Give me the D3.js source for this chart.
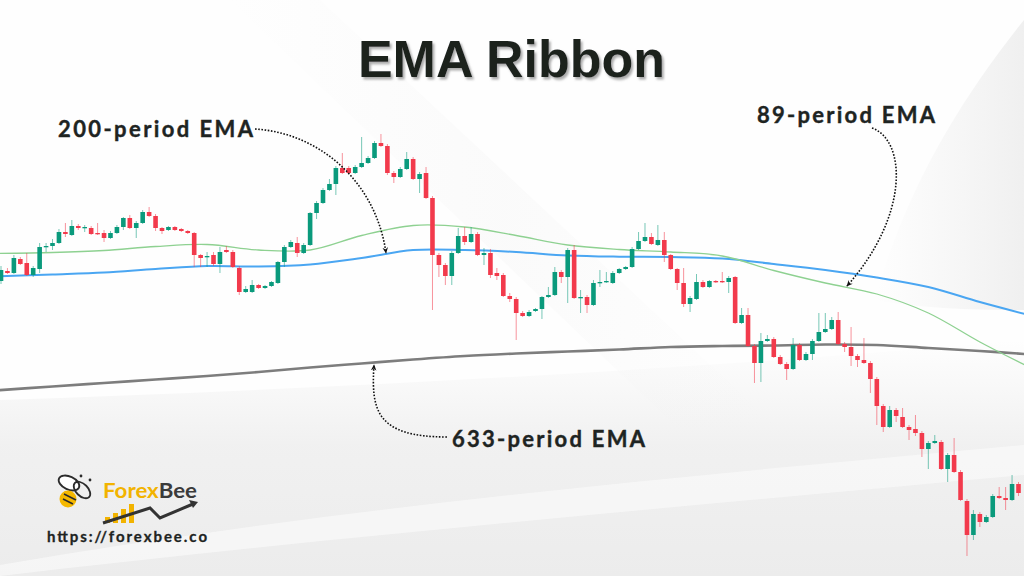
<!DOCTYPE html>
<html>
<head>
<meta charset="utf-8">
<script src="https://cdn.jsdelivr.net/npm/d3@7"></script>
<style>
  html, body { margin: 0; padding: 0; background: #fff; }
  svg { display: block; }
</style>
</head>
<body>
<div id="chart"></div>
<script>
var width = 1024;
var height = 576;

// candle values, one entry per bar
var openVals = [319,329,327,341,337,325,331,353,354,357,
  368,365,374,372,372,367,367,362,367,373,
  382,372,377,388,384,372,370,373,371,369,
  367,345,343,345,336,350,348,332,308,308,
  315,312,314,317,338,353,357,347,355,387,
  397,410,416,432,432,427,433,437,442,457,
  454,427,423,431,441,421,427,402,345,335,
  324,347,364,358,366,345,347,327,325,304,
  301,287,284,289,291,303,305,328,323,350,
  302,303,295,317,318,317,327,331,333,351,
  359,363,355,360,345,331,317,296,301,318,
  313,319,319,318,323,277,285,254,237,259,
  261,243,236,231,255,240,246,259,268,271,
  280,256,253,244,240,237,221,194,173,190,
  183,173,171,167,151,157,158,131,145,128,
  99,65,86,78,83,104,102,100,116];
var highVals = [334,332,345,343,347,334,357,357,361,371,
  377,380,376,375,374,377,370,369,375,383,
  385,379,390,393,386,373,374,374,372,370,
  368,346,348,348,353,354,350,334,314,320,
  316,315,319,339,355,360,363,357,388,399,
  412,421,434,447,434,435,463,444,459,466,
  456,429,433,448,443,428,433,404,347,337,
  349,372,373,373,368,352,351,332,327,307,
  303,289,290,292,304,313,333,330,352,355,
  310,305,320,330,328,329,332,334,353,368,
  377,367,375,368,346,332,332,304,326,320,
  320,320,328,324,324,292,292,256,267,265,
  263,245,238,262,257,248,261,287,287,283,
  288,258,273,246,262,239,223,196,194,192,
  192,175,185,169,159,165,160,147,162,130,
  101,90,88,85,106,113,113,125,118];
var lowVals = [316,326,326,335,324,323,327,348,350,356,
  363,364,370,368,365,365,358,361,366,370,
  371,362,376,383,369,366,369,369,368,366,
  333,333,333,334,327,347,332,305,307,307,
  311,311,313,316,333,352,343,346,354,381,
  396,409,405,426,426,426,432,436,441,453,
  425,417,422,430,420,407,401,290,323,315,
  315,346,355,357,344,335,322,320,303,298,
  260,283,283,288,281,302,304,317,297,301,
  287,287,294,313,317,316,326,330,332,350,
  358,355,354,338,330,310,293,288,300,312,
  312,317,317,307,276,276,253,217,218,258,
  242,235,220,230,239,239,240,258,267,270,
  255,248,234,233,236,207,175,168,172,178,
  172,160,164,143,131,156,130,118,127,99,
  44,60,73,77,82,101,90,99,104];
var closeVals = [330,327,342,336,325,332,353,354,357,368,
  366,374,372,373,366,366,362,367,373,382,
  372,377,388,384,372,369,373,370,369,367,
  345,342,344,336,348,348,333,308,311,315,
  312,314,318,338,353,358,347,355,387,397,
  410,416,432,427,427,433,437,442,457,454,
  427,423,431,441,421,426,402,345,335,324,
  347,364,358,366,345,347,325,324,304,301,
  287,284,288,291,303,305,328,323,350,302,
  303,295,317,318,319,327,331,333,351,359,
  363,356,360,345,331,317,296,302,318,313,
  319,318,318,322,277,285,254,237,259,261,
  243,236,231,255,240,246,259,268,271,280,
  256,253,244,240,237,221,194,173,190,184,
  173,170,167,151,157,159,131,145,128,100,
  65,86,78,83,104,102,100,116,107];

// moving averages, sampled at these bar numbers
var emaIdx = [0, 9, 17, 25, 33, 41, 49, 57, 65, 73, 81, 89, 97, 105, 113, 121, 129, 137, 145, 153, 160];
var ema89 = [346.5,347.5,349.5,353.5,355.5,350,350,364.5,374.5,373,364.5,355,350.5,348,344,329.5,317,306,287,258,235];
var ema200 = [323.5,325.5,327.5,331,334,333.5,335.5,342,350,350,348,344.5,343.3,343,341.5,336,330,322.5,313,298,286];
var ema633 = [209.5,213.5,217,220.5,224,228,232.5,236.5,240.5,244,246.5,248.5,250.5,253,254,254.5,255.5,255,252,249,246];

var titleText = "EMA Ribbon";
var labels = ["200-period EMA", "89-period EMA", "633-period EMA"];

var bars = openVals.map(function(o, i) {
  return {i: i + 1, open: o, high: highVals[i], low: lowVals[i], close: closeVals[i]};
});

var x = d3.scaleLinear().domain([1, bars.length]).range([1, 1018.5]);
var y = d3.scaleLinear().domain([24, 600]).range([576, 0]);

var svg = d3.select("#chart").append("svg")
  .attr("width", width)
  .attr("height", height)
  .attr("viewBox", [0, 0, width, height]);

var defs = svg.append("defs");

var g1 = defs.append("linearGradient").attr("id", "bottomFade")
  .attr("x1", 0).attr("y1", 0).attr("x2", 0).attr("y2", 1);
g1.append("stop").attr("offset", "0%").attr("stop-color", "#f0f0f0").attr("stop-opacity", 0);
g1.append("stop").attr("offset", "45%").attr("stop-color", "#efefef").attr("stop-opacity", 0.9);
g1.append("stop").attr("offset", "100%").attr("stop-color", "#ececec").attr("stop-opacity", 1);

var g2 = defs.append("linearGradient").attr("id", "cornerFade")
  .attr("x1", 0).attr("y1", 0).attr("x2", 1).attr("y2", 0);
g2.append("stop").attr("offset", "0%").attr("stop-color", "#f0f0f0").attr("stop-opacity", 0);
g2.append("stop").attr("offset", "100%").attr("stop-color", "#eeeeee").attr("stop-opacity", 0.9);

var g3 = defs.append("linearGradient").attr("id", "streakFade")
  .attr("x1", 0).attr("y1", 0).attr("x2", 1).attr("y2", 0);
g3.append("stop").attr("offset", "0%").attr("stop-color", "#f2f2f2").attr("stop-opacity", 0);
g3.append("stop").attr("offset", "50%").attr("stop-color", "#f2f2f2").attr("stop-opacity", 0.6);
g3.append("stop").attr("offset", "100%").attr("stop-color", "#f2f2f2").attr("stop-opacity", 0);

var shadow = defs.append("filter").attr("id", "titleShadow")
  .attr("x", "-5%").attr("y", "-20%").attr("width", "110%").attr("height", "140%");
shadow.append("feDropShadow")
  .attr("dx", 2).attr("dy", 2.5).attr("stdDeviation", 0.8)
  .attr("flood-color", "#808080").attr("flood-opacity", 0.65);

defs.append("marker")
  .attr("id", "arrowHead")
  .attr("viewBox", "0 0 10 10")
  .attr("refX", 8).attr("refY", 5)
  .attr("markerWidth", 7).attr("markerHeight", 7)
  .attr("markerUnits", "userSpaceOnUse")
  .attr("orient", "auto")
  .append("path")
  .attr("d", "M0,1 L9,5 L0,9 L3,5 Z")
  .attr("fill", "#111");

// background
svg.append("rect").attr("width", width).attr("height", height).attr("fill", "#fefefe");
svg.append("path")
  .attr("d", "M0,400 C300,390 700,370 1024,340 L1024,576 L0,576 Z")
  .attr("fill", "url(#bottomFade)");
svg.append("path")
  .attr("d", "M0,565 C350,505 700,475 1024,445 L1024,475 C700,505 350,535 0,576 Z")
  .attr("fill", "#fafafa").attr("opacity", 0.7);
svg.append("path")
  .attr("d", "M1024,20 C960,100 905,190 875,300 C930,310 990,310 1024,310 Z")
  .attr("fill", "url(#cornerFade)");
svg.append("path")
  .attr("d", "M230,0 L320,0 L780,430 L690,440 Z")
  .attr("fill", "url(#streakFade)").attr("opacity", 0.5);

// EMA lines
var line = d3.line()
  .x(function(d) { return x(d[0]); })
  .y(function(d) { return y(d[1]); })
  .curve(d3.curveCatmullRom.alpha(0.5));

function emaPoints(vals) {
  return emaIdx.map(function(k, j) { return [k, vals[j]]; });
}

svg.append("path")
  .datum(emaPoints(ema633))
  .attr("fill", "none")
  .attr("stroke", "#7d7d7d")
  .attr("stroke-width", 2.6)
  .attr("d", line);

svg.append("path")
  .datum(emaPoints(ema200))
  .attr("fill", "none")
  .attr("stroke", "#4aa6f2")
  .attr("stroke-width", 2)
  .attr("d", line);

svg.append("path")
  .datum(emaPoints(ema89))
  .attr("fill", "none")
  .attr("stroke", "#8ed191")
  .attr("stroke-width", 1.3)
  .attr("d", line);

// candles
var up = "#0a9a7c";
var down = "#f23a4c";
var bodyW = 4.6;

var candle = svg.append("g").selectAll("g")
  .data(bars)
  .join("g");

candle.append("line")
  .attr("x1", function(d) { return x(d.i); })
  .attr("x2", function(d) { return x(d.i); })
  .attr("y1", function(d) { return y(d.high); })
  .attr("y2", function(d) { return y(d.low); })
  .attr("stroke", function(d) { return d.close >= d.open ? up : down; })
  .attr("stroke-opacity", 0.55)
  .attr("stroke-width", 1);

candle.append("rect")
  .attr("x", function(d) { return x(d.i) - bodyW / 2; })
  .attr("width", bodyW)
  .attr("y", function(d) { return y(Math.max(d.open, d.close)); })
  .attr("height", function(d) { return Math.max(1.3, Math.abs(y(d.open) - y(d.close))); })
  .attr("fill", function(d) { return d.close >= d.open ? up : down; });

// title
svg.append("text")
  .attr("x", 511.5).attr("y", 77)
  .attr("text-anchor", "middle")
  .attr("font-family", "'Liberation Sans', Arial, sans-serif")
  .attr("font-weight", 700)
  .attr("font-size", 52)
  .attr("fill", "#1b211f")
  .attr("filter", "url(#titleShadow)")
  .text(titleText);

// annotations
var notes = [
  {text: labels[0], x: 58, y: 137, w: 195},
  {text: labels[1], x: 757, y: 123, w: 178},
  {text: labels[2], x: 452, y: 447, w: 193}
];
svg.append("g").selectAll("text")
  .data(notes)
  .join("text")
  .attr("x", function(d) { return d.x; })
  .attr("y", function(d) { return d.y; })
  .attr("textLength", function(d) { return d.w; })
  .attr("lengthAdjust", "spacing")
  .attr("font-family", "Lato, 'Open Sans', sans-serif")
  .attr("font-weight", 700)
  .attr("font-size", 22)
  .attr("fill", "#1e2422")
  .attr("stroke", "#1e2422")
  .attr("stroke-width", 0.4)
  .text(function(d) { return d.text; });

var arrows = [
  "M255,129 C320,133 376,182 386,253",
  "M872,128 C906,140 910,215 847,286",
  "M447,437 C376,437 371,410 374,365"
];
svg.append("g").selectAll("path")
  .data(arrows)
  .join("path")
  .attr("d", function(d) { return d; })
  .attr("fill", "none")
  .attr("stroke", "#111")
  .attr("stroke-width", 1.6)
  .attr("stroke-dasharray", "1.6 1.6")
  .attr("marker-end", "url(#arrowHead)");

// logo
var logo = svg.append("g");
logo.append("ellipse")
  .attr("cx", 69).attr("cy", 483).attr("rx", 11).attr("ry", 6.5)
  .attr("transform", "rotate(25 69 483)")
  .attr("fill", "#fff").attr("stroke", "#2b2b2b").attr("stroke-width", 1.8);
logo.append("circle")
  .attr("cx", 68).attr("cy", 499).attr("r", 8.5)
  .attr("fill", "#f5b800");
logo.append("ellipse")
  .attr("cx", 82).attr("cy", 490).attr("rx", 10).attr("ry", 6)
  .attr("transform", "rotate(45 82 490)")
  .attr("fill", "none").attr("stroke", "#2b2b2b").attr("stroke-width", 1.8);
logo.append("path")
  .attr("d", "M64,494 L76,500 M63,499 L73,504")
  .attr("stroke", "#2b2b2b").attr("stroke-width", 1.6);
logo.append("circle").attr("cx", 81).attr("cy", 476).attr("r", 1.4).attr("fill", "#2b2b2b");
logo.append("circle").attr("cx", 90).attr("cy", 480).attr("r", 1.4).attr("fill", "#2b2b2b");

var logoText = logo.append("text")
  .attr("x", 103).attr("y", 498)
  .attr("textLength", 94)
  .attr("lengthAdjust", "spacingAndGlyphs")
  .attr("font-family", "Lato, 'Open Sans', sans-serif")
  .attr("font-weight", 700)
  .attr("font-size", 21);
logoText.append("tspan").attr("fill", "#f2b300").text("Forex");
logoText.append("tspan").attr("fill", "#3b3b3b").text("Bee");

var logoBars = [[105, 6], [113, 10], [121, 14], [129, 19]];
logo.selectAll("rect.lb")
  .data(logoBars)
  .join("rect")
  .attr("class", "lb")
  .attr("x", function(d) { return d[0]; })
  .attr("y", function(d) { return 523 - d[1]; })
  .attr("width", 5)
  .attr("height", function(d) { return d[1]; })
  .attr("fill", "#f2b300");
logo.append("path")
  .attr("d", "M103,523 L150,508 L160,518 L193,504")
  .attr("fill", "none").attr("stroke", "#333").attr("stroke-width", 3);
logo.append("path")
  .attr("d", "M198,502 L189,500 L193,508 Z")
  .attr("fill", "#333");

svg.append("text")
  .attr("x", 47).attr("y", 542)
  .attr("textLength", 160)
  .attr("lengthAdjust", "spacing")
  .attr("font-family", "Lato, 'Open Sans', sans-serif")
  .attr("font-weight", 700)
  .attr("font-size", 15)
  .attr("fill", "#1e2422")
  .attr("stroke", "#1e2422")
  .attr("stroke-width", 0.3)
  .text("https://forexbee.co");
</script>
</body>
</html>
